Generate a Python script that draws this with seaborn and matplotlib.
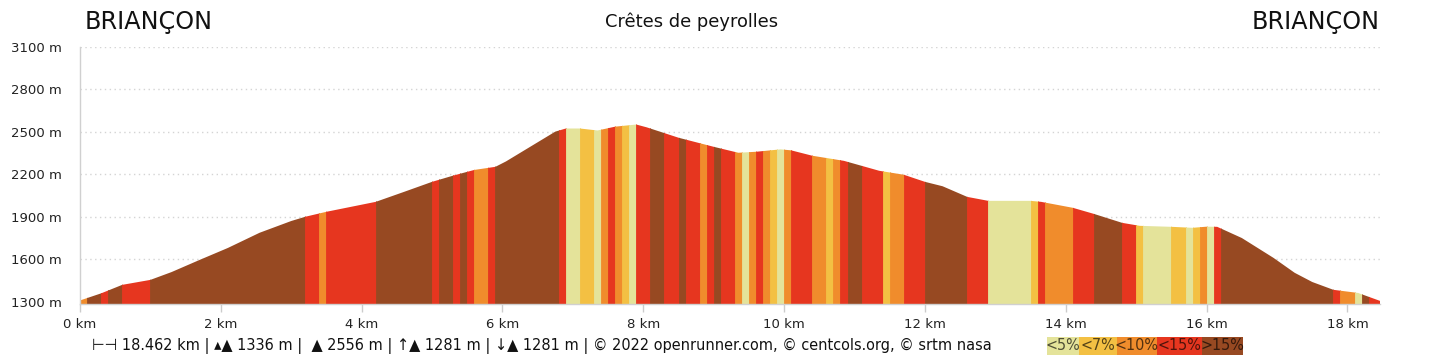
import numpy as np
import matplotlib.pyplot as plt
import seaborn as sns
from matplotlib.patches import Rectangle

# elevation profile
dist_km = [0.0, 0.3, 0.6, 1.0, 1.3, 1.7, 2.1, 2.55, 3.0, 3.2, 3.5, 4.2, 4.6, 5.0, 5.3,
           5.6, 5.9, 6.05, 6.4, 6.75, 6.9, 7.1, 7.35, 7.6, 7.9, 8.05, 8.5, 9.0, 9.35,
           9.6, 9.95, 10.1, 10.4, 10.85, 11.35, 11.7, 12.0, 12.25, 12.6, 12.9, 13.5,
           13.65, 14.1, 14.4, 14.8, 15.05, 15.5, 15.8, 16.0, 16.15, 16.5, 16.95, 17.25,
           17.5, 17.8, 18.15, 18.462]
alt_m = [1310, 1360, 1420, 1455, 1510, 1596, 1680, 1787, 1870, 1900, 1935, 2005, 2075,
         2146, 2190, 2230, 2252, 2290, 2395, 2500, 2522, 2522, 2508, 2535, 2550, 2530,
         2457, 2393, 2351, 2358, 2375, 2368, 2330, 2294, 2224, 2196, 2146, 2115, 2040,
         2012, 2012, 2005, 1963, 1920, 1857, 1836, 1829, 1822, 1830, 1829, 1750, 1610,
         1505, 1440, 1385, 1363, 1307]

# gradient bands: start (km) and class
band_start_km = [0.0, 0.1, 0.3, 0.4, 0.6, 1.0, 3.2, 3.4, 3.5, 4.2, 5.0, 5.1, 5.3, 5.4,
                 5.5, 5.6, 5.8, 5.9, 6.8, 6.9, 7.1, 7.3, 7.4, 7.5, 7.6, 7.7, 7.8, 7.9,
                 8.1, 8.3, 8.5, 8.6, 8.8, 8.9, 9.0, 9.1, 9.3, 9.4, 9.5, 9.6, 9.7, 9.8,
                 9.9, 10.0, 10.1, 10.4, 10.6, 10.7, 10.8, 10.9, 11.1, 11.4, 11.5, 11.7,
                 12.0, 12.6, 12.9, 13.5, 13.6, 13.7, 14.1, 14.4, 14.8, 15.0, 15.1, 15.5,
                 15.7, 15.8, 15.9, 16.0, 16.1, 16.2, 17.8, 17.9, 18.1, 18.2, 18.3]
band_class = ["<10%", ">15%", "<15%", ">15%", "<15%", ">15%", "<15%", "<10%", "<15%",
              ">15%", "<15%", ">15%", "<15%", ">15%", "<15%", "<10%", "<15%", ">15%",
              "<15%", "<5%", "<7%", "<5%", "<10%", "<15%", "<10%", "<7%", "<5%", "<15%",
              ">15%", "<15%", ">15%", "<15%", "<10%", "<15%", ">15%", "<15%", "<10%",
              "<5%", "<10%", "<15%", "<10%", "<7%", "<5%", "<10%", "<15%", "<10%", "<7%",
              "<10%", "<15%", ">15%", "<15%", "<7%", "<10%", "<15%", ">15%", "<15%",
              "<5%", "<7%", "<15%", "<10%", "<15%", ">15%", "<15%", "<7%", "<5%", "<7%",
              "<5%", "<7%", "<10%", "<5%", "<15%", ">15%", "<15%", "<10%", "<5%", ">15%",
              "<15%"]
route_end_km = 18.462

grade_labels = ["<5%", "<7%", "<10%", "<15%", ">15%"]
grade_colors = ["#e4e39a", "#f3c043", "#f08c2c", "#e6361f", "#974922"]
y_ticks = [1300, 1600, 1900, 2200, 2500, 2800, 3100]
x_ticks = [0, 2, 4, 6, 8, 10, 12, 14, 16, 18]

footer = ("\u22a2\u22a3 18.462 km | \u25b4\u25b2 1336 m |  \u25b2 2556 m | "
          "\u2191\u25b2 1281 m | \u2193\u25b2 1281 m | "
          "\u00a9 2022 openrunner.com, \u00a9 centcols.org, \u00a9 srtm nasa")

sns.set_theme(style="white")
plt.rcParams['font.family'] = ['DejaVu Sans']

fig = plt.figure(figsize=(14.4, 3.6), dpi=100)
ax = fig.add_axes([80 / 1440, 56 / 360, 1300 / 1440, 257.5 / 360])

# profile shape used as clip path for the coloured bands
shape = ax.fill_between(dist_km, alt_m, 1000, facecolor="none", lw=0)
clip = shape.get_paths()[0]

cmap = dict(zip(grade_labels, grade_colors))
ends = band_start_km[1:] + [route_end_km]
for s, e, c in zip(band_start_km, ends, band_class):
    band = ax.axvspan(s, e, facecolor=cmap[c], edgecolor=cmap[c], lw=0.6, zorder=2)
    band.set_clip_path(clip, ax.transData)

ax.set_xlim(0, route_end_km)
ax.set_ylim(1285, 3100)
ax.set_yticks(y_ticks)
ax.set_yticklabels([f"{v} m" for v in y_ticks])
ax.set_xticks(x_ticks)
ax.set_xticklabels([f"{v} km" for v in x_ticks])
ax.yaxis.grid(True, ls=(0, (1, 2.5)), color="#d4d4d4", lw=1)
ax.set_axisbelow(True)
ax.tick_params(axis="y", length=0, pad=13, labelsize=9.5, labelcolor="#222222")
ax.tick_params(axis="x", length=6, width=1, color="#cccccc", pad=4,
               labelsize=9.5, labelcolor="#222222", bottom=True)
sns.despine(ax=ax)
for side in ["left", "bottom"]:
    ax.spines[side].set_color("#d0d0d0")
    ax.spines[side].set_linewidth(1)

fig.text(85 / 1440, 0.939, "BRIANÇON", fontsize=17.2, va="center", color="#111111")
fig.text(1380 / 1440, 0.939, "BRIANÇON", fontsize=17.2, va="center", ha="right",
         color="#111111")
fig.text(692 / 1440, 0.939, "Crêtes de peyrolles", fontsize=12.9, va="center",
         ha="center", color="#111111")
fig.text(92 / 1440, 0.039, footer, fontsize=11.6, va="center", color="#111111",
         fontstretch="condensed")

# gradient legend boxes
box_edges = [1047, 1079, 1117, 1157, 1202, 1243]
for i, (lab, col) in enumerate(zip(grade_labels, grade_colors)):
    x0, x1 = box_edges[i], box_edges[i + 1]
    fig.patches.append(Rectangle((x0 / 1440, 5 / 360), (x1 - x0) / 1440, 18.5 / 360,
                                 transform=fig.transFigure, facecolor=col, lw=0))
    fig.text((x0 + x1) / 2 / 1440, 14 / 360, lab, fontsize=11.5, ha="center",
             va="center", color="black", alpha=0.65, fontstretch="condensed")

fig.savefig("out.png", dpi=100)
